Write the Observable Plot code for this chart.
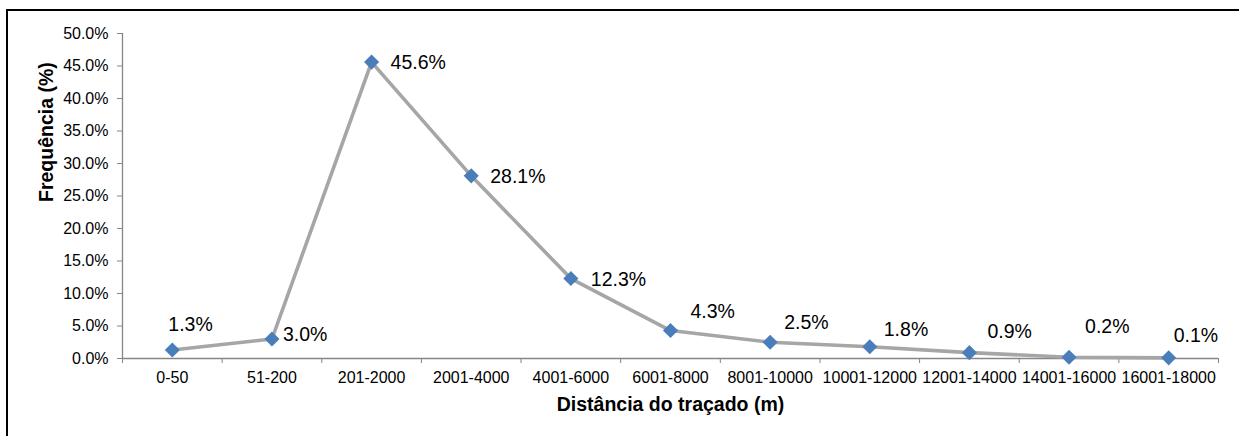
<!DOCTYPE html>
<html>
<head>
<meta charset="utf-8">
<script src="https://cdn.jsdelivr.net/npm/d3@7"></script>
<script src="https://cdn.jsdelivr.net/npm/@observablehq/plot@0.6"></script>
<style>
  html, body { margin: 0; padding: 0; background: #fff; overflow: hidden; }
  #wrap { position: relative; width: 1239px; height: 436px; overflow: hidden; }
  #frame {
    position: absolute; left: 6px; top: 9px; width: 1300px; height: 500px;
    border-left: 2px solid #000; border-top: 2px solid #000; pointer-events: none;
  }
  #wrap svg { position: absolute; left: 0; top: 0; }
</style>
</head>
<body>
<div id="wrap"><div id="frame"></div></div>
<script>
// Distance classes of the route (m)
const categories = [
  "0-50", "51-200", "201-2000", "2001-4000", "4001-6000", "6001-8000",
  "8001-10000", "10001-12000", "12001-14000", "14001-16000", "16001-18000"
];
// Frequency of each class (%)
const frequency = [1.3, 3.0, 45.6, 28.1, 12.3, 4.3, 2.5, 1.8, 0.9, 0.2, 0.1];
// Y axis ticks (%)
const yTicks = [0, 5, 10, 15, 20, 25, 30, 35, 40, 45, 50];

// Label nudges in pixels, [dx, dy], one per point
const labelNudge = [
  [-4, -25], [11, -4], [19, 1], [19, 1], [20, 1], [20, -19],
  [14, -20], [14, -17], [18, -21], [16, -30], [5, -22]
];

const rows = categories.map((c, i) => ({
  i, cat: c, v: frequency[i], dx: labelNudge[i][0], dy: labelNudge[i][1]
}));

const axisGrey = "#868686";
const font = "'Liberation Sans', Arial, sans-serif";

const labelMarks = rows.map(r =>
  Plot.text([r], {
    x: "i", y: "v", text: d => d.v.toFixed(1) + "%",
    textAnchor: "start", lineAnchor: "middle",
    dx: r.dx, dy: r.dy, fontSize: 19.5, fill: "#000"
  })
);

const chart = Plot.plot({
  width: 1239,
  height: 436,
  marginLeft: 122,
  marginRight: 21,
  marginTop: 33,
  marginBottom: 78,
  style: { fontFamily: font, background: "transparent", overflow: "visible" },
  x: { type: "linear", domain: [-0.5, categories.length - 0.5] },
  y: { domain: [0, 50] },
  marks: [
    // axis lines
    Plot.ruleX([-0.5], { stroke: axisGrey, strokeWidth: 1.3 }),
    Plot.ruleY([0], { stroke: axisGrey, strokeWidth: 1.3 }),
    // y axis
    Plot.axisY({
      ticks: yTicks, tickFormat: d => d.toFixed(1) + "%",
      tickSize: 5, tickPadding: 9, fontSize: 16,
      stroke: axisGrey, fill: "#000", label: null
    }),
    // x axis: tick marks at class boundaries
    Plot.axisX({
      ticks: d3.range(categories.length + 1).map(i => i - 0.5),
      tickFormat: () => "", tickSize: 5, stroke: axisGrey, label: null
    }),
    // x axis: class names at class centres
    Plot.axisX({
      ticks: d3.range(categories.length), tickFormat: i => categories[i],
      tickSize: 0, tickPadding: 13, fontSize: 16, fill: "#000", label: null
    }),
    // axis titles
    Plot.text(["Distância do traçado (m)"], {
      frameAnchor: "bottom", dy: 46, lineAnchor: "middle",
      fontSize: 19.5, fontWeight: "bold", fill: "#000"
    }),
    Plot.text(["Frequência (%)"], {
      frameAnchor: "left", dx: -76, dy: 6, rotate: -90, lineAnchor: "middle",
      fontSize: 19.5, fontWeight: "bold", fill: "#000"
    }),
    // series
    Plot.line(rows, { x: "i", y: "v", stroke: "#A6A6A6", strokeWidth: 3.6 }),
    Plot.dot(rows, { x: "i", y: "v", symbol: "diamond2", r: 6.8, fill: "#4A7EBB", stroke: "none" }),
    ...labelMarks
  ]
});

document.getElementById("wrap").insertBefore(chart, document.getElementById("frame"));
</script>
</body>
</html>
